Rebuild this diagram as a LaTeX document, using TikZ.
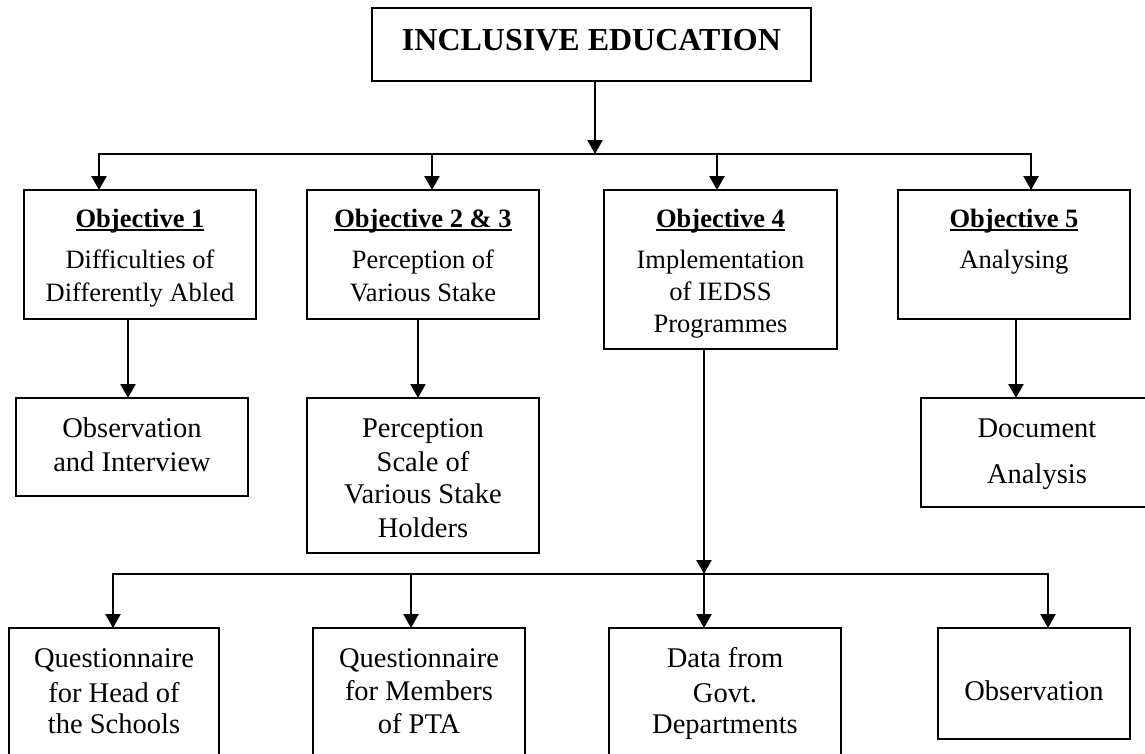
\documentclass[tikz,border=0pt]{standalone}
\usepackage{fontspec}
\setmainfont{Liberation Serif}
\usetikzlibrary{arrows.meta}
\newcommand\myul[1]{\setbox0=\hbox{#1}\copy0\llap{\rule[-3.6pt]{\wd0}{1.7pt}}}
\newcommand\mybox[5]{\node[boxst, minimum width={#4-#2}, minimum height={#5-#3}] (#1) at ({(#2+#4)/2},{(#3+#5)/2}) {};}
\tikzset{
  boxst/.style={draw, line width=1.7pt, rectangle, inner sep=0pt, outer sep=0pt},
  txtst/.style={anchor=base, inner sep=0pt},
  ttl/.style={txtst, font=\fontsize{32}{38}\selectfont\bfseries},
  obj/.style={txtst, font=\fontsize{26.5}{32}\selectfont},
  objh/.style={txtst, font=\fontsize{26.5}{32}\selectfont\bfseries},
  big/.style={txtst, font=\fontsize{28.5}{34}\selectfont},
  conn/.style={line width=2.4pt},
  arr/.style={conn, -{Triangle[width=15pt,length=14pt]}},
}
\begin{document}
\begin{tikzpicture}[x=1pt,y=-1pt]
\useasboundingbox (0,0) rectangle (1145,753);
\fill[white] (0,0) rectangle (1145,753);
% boxes
\mybox{top}{372}{8}{811}{81}
\mybox{o1}{24}{190}{256}{319}
\mybox{o2}{307}{190}{539}{319}
\mybox{o4}{604}{190}{837}{349}
\mybox{o5}{898}{190}{1130}{319}
\mybox{m1}{16}{398}{248}{496}
\mybox{m2}{307}{398}{539}{553}
\mybox{m5}{921}{398}{1153}{507}
\mybox{q1}{9}{628}{219}{775}
\mybox{q2}{313}{628}{525}{775}
\mybox{q3}{609}{628}{841}{775}
\mybox{q4}{938}{628}{1130}{739}
% texts
\node[ttl] (tt) at (591.5,50) {INCLUSIVE EDUCATION};
\node[objh] (o1a) at (140,227) {\myul{Objective 1}};
\node[obj] (o1b) at (140,268) {Difficulties of};
\node[obj] (o1c) at (140,301) {Differently Abled};
\node[objh] (o2a) at (423,227) {\myul{Objective 2 \& 3}};
\node[obj] (o2b) at (423,268) {Perception of};
\node[obj] (o2c) at (423,301) {Various Stake};
\node[objh] (o4a) at (720.5,227) {\myul{Objective 4}};
\node[obj] (o4b) at (720.5,268) {Implementation};
\node[obj] (o4c) at (720.5,300) {of IEDSS};
\node[obj] (o4d) at (720.5,332) {Programmes};
\node[objh] (o5a) at (1014,227) {\myul{Objective 5}};
\node[obj] (o5b) at (1014,268) {Analysing};
\node[big] (m1a) at (132,437) {Observation};
\node[big] (m1b) at (132,471) {and Interview};
\node[big] (m2a) at (423,437) {Perception};
\node[big] (m2b) at (423,471) {Scale of};
\node[big] (m2c) at (423,503) {Various Stake};
\node[big] (m2d) at (423,537) {Holders};
\node[big] (m5a) at (1037,437) {Document};
\node[big] (m5b) at (1037,483) {Analysis};
\node[big] (q1a) at (114,667) {Questionnaire};
\node[big] (q1b) at (114,702) {for Head of};
\node[big] (q1c) at (114,733) {the Schools};
\node[big] (q2a) at (419,667) {Questionnaire};
\node[big] (q2b) at (419,700) {for Members};
\node[big] (q2c) at (419,733) {of PTA};
\node[big] (q3a) at (725,667) {Data from};
\node[big] (q3b) at (725,702) {Govt.};
\node[big] (q3c) at (725,733) {Departments};
\node[big] (q4a) at (1034,700) {Observation};
% connectors level 1
\coordinate (c0) at (595,154);
\coordinate (c1) at (99,154);
\coordinate (c2) at (432,154);
\coordinate (c4) at (717,154);
\coordinate (c5) at (1031,154);
\draw[arr] (top.south -| c0) -- (c0);
\draw[conn, line cap=rect] (c1) -- (c5);
\draw[arr] (c1) -- (o1.north -| c1);
\draw[arr] (c2) -- (o2.north -| c2);
\draw[arr] (c4) -- (o4.north -| c4);
\draw[arr] (c5) -- (o5.north -| c5);
% level 2
\coordinate (s1) at (128,0);
\coordinate (s2) at (418,0);
\coordinate (s5) at (1016,0);
\draw[arr] (o1.south -| s1) -- (m1.north -| s1);
\draw[arr] (o2.south -| s2) -- (m2.north -| s2);
\draw[arr] (o5.south -| s5) -- (m5.north -| s5);
% objective 4 branch
\coordinate (j) at (704,574);
\coordinate (k1) at (113,574);
\coordinate (k2) at (411,574);
\coordinate (k4) at (1048,574);
\draw[arr] (o4.south -| j) -- (j);
\draw[conn, line cap=rect] (k1) -- (k4);
\draw[arr] (k1) -- (q1.north -| k1);
\draw[arr] (k2) -- (q2.north -| k2);
\draw[arr] (j) -- (q3.north -| j);
\draw[arr] (k4) -- (q4.north -| k4);
\end{tikzpicture}
\end{document}
